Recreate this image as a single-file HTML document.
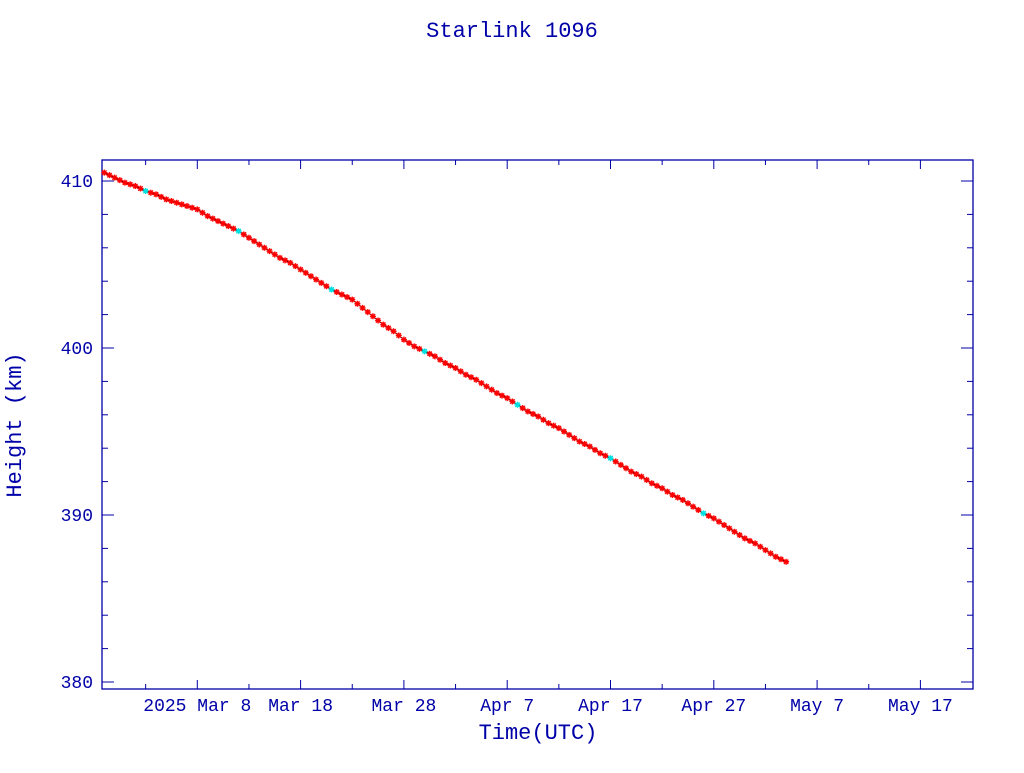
<!DOCTYPE html>
<html><head><meta charset="utf-8"><style>
body{margin:0;background:#fff;}
svg text{font-family:"Liberation Mono",monospace;fill:#0000a8;}
</style></head><body>
<svg id="chart" width="1024" height="768" xmlns="http://www.w3.org/2000/svg">
<text x="512" y="37" font-size="22" text-anchor="middle">Starlink 1096</text>
<rect x="102" y="160" width="871" height="529" fill="none" stroke="#0000a8" stroke-width="1.3"/>
<g id="ticks"></g>
<g id="series"></g>
<text x="538" y="739" font-size="22" text-anchor="middle">Time(UTC)</text>
<text transform="translate(21,425) rotate(-90)" font-size="22" text-anchor="middle">Height (km)</text>
</svg>
<script>
const days=[-9,-8,-7,-6,-5,-4,-3,-2,-1,0,1,2,3,4,5,6,7,8,9,10,11,12,13,14,15,16,17,18,19,20,21,22,23,24,25,26,27,28,29,30,31,32,33,34,35,36,37,38,39,40,41,42,43,44,45,46,47,48,49,50,51,52,53,54,55,56,57];
const heights=[410.5,410.2,409.9,409.7,409.4,409.2,408.9,408.7,408.5,408.3,407.9,407.6,407.3,407.0,406.6,406.2,405.8,405.4,405.1,404.7,404.3,403.9,403.5,403.2,402.9,402.4,401.9,401.4,401.0,400.5,400.1,399.8,399.5,399.1,398.8,398.4,398.1,397.7,397.3,397.0,396.6,396.2,395.9,395.5,395.2,394.8,394.4,394.1,393.7,393.4,393.0,392.6,392.3,391.9,391.6,391.2,390.9,390.5,390.1,389.8,389.4,389.0,388.6,388.3,387.9,387.5,387.2];
const xTickDays=[0,10,20,30,40,50,60,70];
const xTickLabels=["2025 Mar  8","Mar 18","Mar 28","Apr  7","Apr 17","Apr 27","May  7","May 17"];
const yTickValues=[380,390,400,410];
const NS="http://www.w3.org/2000/svg";
const X=d=>197.3+d*10.33;
const Y=h=>181+(410-h)*16.7;
const tk=document.getElementById('ticks'),sr=document.getElementById('series');
function mk(tag,attrs,parent){const e=document.createElementNS(NS,tag);for(const k in attrs)e.setAttribute(k,attrs[k]);parent.appendChild(e);return e;}
const C="#0000a8";
for(let d=-5;d<=75;d+=5){const x=X(d);if(x<103||x>972)continue;const L=(d%10===0)?9:5;
 const a=mk('line',{x1:x,x2:x,y1:689,y2:689-L,stroke:C},tk);
 
 
 const b=mk('line',{x1:x,x2:x,y1:160,y2:160+L,stroke:C},tk);
 
 }
xTickDays.forEach((d,i)=>{const t=mk('text',{x:X(d),y:711,'font-size':18,'text-anchor':'middle','xml:space':'preserve'},tk);t.textContent=xTickLabels[i];
 
 });
for(let h=380;h<=410;h+=2){const y=Y(h);const L=(h%10===0)?12:6;
 const a=mk('line',{x1:102,x2:102+L,y1:y,y2:y,stroke:C},tk);
 
 
 const b=mk('line',{x1:973,x2:973-L,y1:y,y2:y,stroke:C},tk);
 
 }
yTickValues.forEach(v=>{const t=mk('text',{x:93,y:Y(v)+6,'font-size':18,'text-anchor':'end'},tk);t.textContent=v;
 
 });
const pl=mk('polyline',{points:days.map((d,i)=>X(d)+','+Y(heights[i])).join(' '),fill:'none',stroke:'#000',"stroke-width":1},sr);


function star(x,y,col){return mk('path',{d:`M${x-3},${y}h6M${x},${y-3}v6M${x-2.2},${y-2.2}l4.4,4.4M${x-2.2},${y+2.2}l4.4,-4.4`,stroke:col,"stroke-width":1.4},sr);}
days.forEach((d,i)=>{
 for(const off of [0,0.5]){
  if(i===days.length-1&&off>0)continue;
  const h=off?(heights[i]+heights[i+1])/2:heights[i];
  const col=(i%9===4&&off===0)?'#00e0e0':'#ff0000';
  const s=star(X(d+off),Y(h),col);
  
  
 }});
</script>
</body></html>
